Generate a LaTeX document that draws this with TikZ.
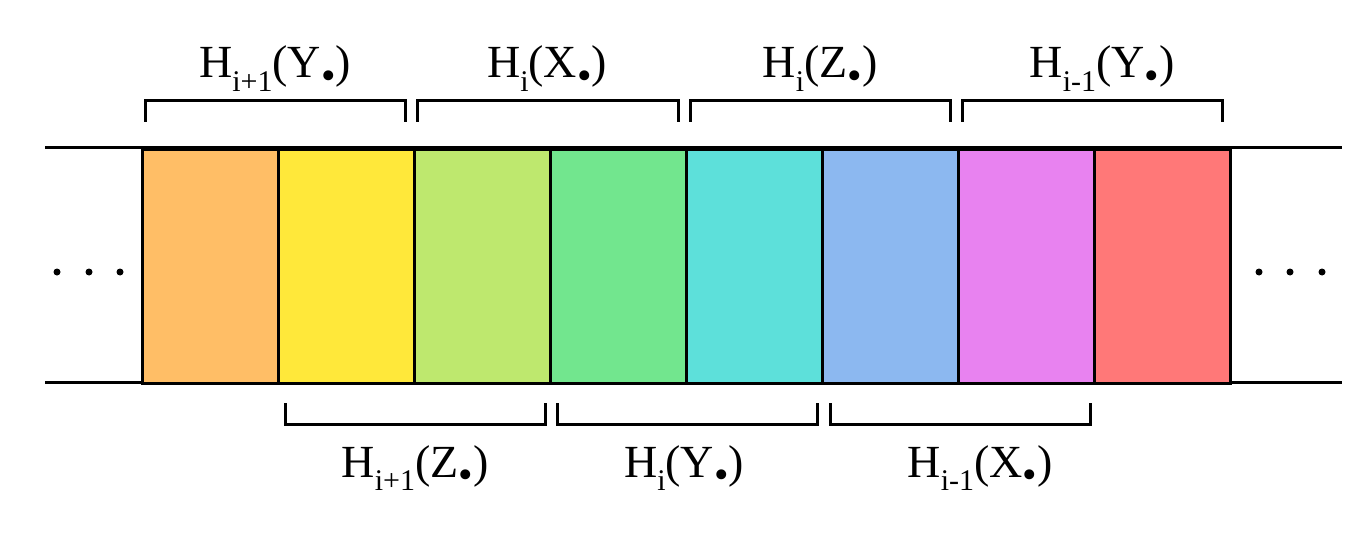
\documentclass[tikz,border=0pt]{standalone}
\usepackage{fontspec}
\setmainfont{Liberation Serif}
\definecolor{c1}{HTML}{FFBE66}
\definecolor{c2}{HTML}{FFE83A}
\definecolor{c3}{HTML}{BEE86E}
\definecolor{c4}{HTML}{72E68E}
\definecolor{c5}{HTML}{5DE0DA}
\definecolor{c6}{HTML}{8CB8F0}
\definecolor{c7}{HTML}{E882F0}
\definecolor{c8}{HTML}{FF7878}
\newcommand{\bdot}{\raisebox{-0.24em}{\scalebox{0.9}{\textbullet}}}
\newcommand{\sublab}[1]{\raisebox{-0.3em}{\fontsize{30}{32}\selectfont #1}}
\newcommand{\hlab}[2]{H\sublab{#1}(#2\bdot)}
\tikzset{
  block/.style={draw=black, line width=3pt, minimum width=136pt, minimum height=234pt, inner sep=0pt, anchor=north west},
  brack/.style={line width=3pt, line cap=rect},
  lab/.style={font=\fontsize{46}{55}\selectfont, inner sep=0pt, anchor=base},
  rail/.style={line width=3pt},
  dotc/.style={circle, fill=black, inner sep=0pt, minimum size=7pt}
}
\begin{document}
\begin{tikzpicture}[x=1pt,y=-1pt]
\useasboundingbox (0,0) rectangle (1372,537);
% rails
\coordinate (tl) at (45,148);
\coordinate (tr) at (1342,148);
\coordinate (bl) at (45,382);
\coordinate (br) at (1342,382);
\draw[rail] (tl) -- (tr);
\draw[rail] (bl) -- (br);
% blocks
\foreach \i/\c in {0/c1,1/c2,2/c3,3/c4,4/c5,5/c6,6/c7,7/c8}{
  \node[block, fill=\c] (b\i) at ({141+136*\i},148) {};
}
% dots
\foreach \x [count=\k] in {57,89,120}{\node[dotc] (ld\k) at (\x,272) {};}
\foreach \x [count=\k] in {1259,1290,1322}{\node[dotc] (rd\k) at (\x,272) {};}
% top brackets
\foreach \a/\b [count=\k] in {145/405,417/678,690/950,962/1222}{
  \draw[brack] (\a,121) -- (\a,101) -- (\b,101) -- (\b,121);
}
% bottom brackets
\foreach \a/\b [count=\k] in {285/545,557/817,830/1090}{
  \draw[brack] (\a,404) -- (\a,424) -- (\b,424) -- (\b,404);
}
% labels
\node[lab] (t1) at (275,78) {\hlab{i+1}{Y}};
\node[lab] (t2) at (547,78) {\hlab{i}{X}};
\node[lab] (t3) at (820,78) {\hlab{i}{Z}};
\node[lab] (t4) at (1102,78) {\hlab{i-1}{Y}};
\node[lab] (u1) at (415,477) {\hlab{i+1}{Z}};
\node[lab] (u2) at (684,477) {\hlab{i}{Y}};
\node[lab] (u3) at (980,477) {\hlab{i-1}{X}};
\end{tikzpicture}
\end{document}
